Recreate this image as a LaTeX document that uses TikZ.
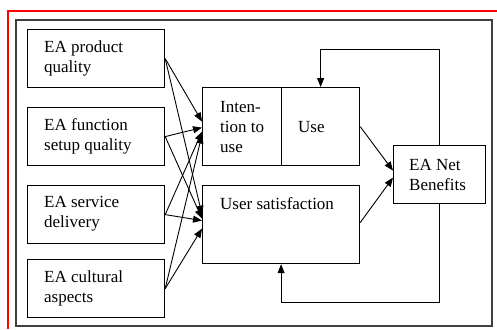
\documentclass[tikz,border=0pt]{standalone}
\usepackage{fontspec}
\setmainfont{Liberation Serif}
\usetikzlibrary{arrows.meta}
\begin{document}
\begin{tikzpicture}[x=1pt,y=-1pt,
  box/.style={draw, line width=1.2pt, inner sep=0pt, anchor=north west},
  lbl/.style={anchor=west, align=left, inner sep=0pt, font=\fontsize{17}{20}\selectfont},
  arr/.style={-{Triangle[length=9pt,width=7pt]}, line width=0.9pt},
  frame/.style={line width=1.8pt, black!75}]
\useasboundingbox (0,0) rectangle (497,329);

% page frames
\draw[red, line width=1.5pt] (497,11) -- (8,11) -- (8,329);
\draw[frame] (16,20) rectangle (492,326);

% quality dimensions
\node[box, minimum width=137pt, minimum height=58pt] (pq) at (27,29) {};
\node[box, minimum width=137pt, minimum height=58pt] (fq) at (27,107) {};
\node[box, minimum width=137pt, minimum height=58pt] (sd) at (27,185) {};
\node[box, minimum width=137pt, minimum height=58pt] (ca) at (27,259) {};
\node[lbl] (tpq) at (44,58) {EA product\\quality};
\node[lbl] (tfq) at (44,136) {EA function\\setup quality};
\node[lbl] (tsd) at (44,214) {EA service\\delivery};
\node[lbl] (tca) at (44,288) {EA cultural\\aspects};

% use and satisfaction
\node[box, minimum width=79pt, minimum height=78pt] (it) at (202,87) {};
\node[box, minimum width=78pt, minimum height=78pt] (use) at (281,87) {};
\node[box, minimum width=157pt, minimum height=78pt] (us) at (202,185) {};
\node[lbl] (tit) at (220,127) {Inten-\\tion to\\use};
\node[lbl] (tuse) at (298,127) {Use};
\node[lbl] (tus) at (220,204) {User satisfaction};

% net benefits
\node[box, minimum width=92pt, minimum height=58pt] (net) at (393,145) {};
\node[lbl] (tnet) at (409,175) {EA Net\\Benefits};

% influences on intention to use
\draw[arr] (pq.east) -- ([yshift=5pt]it.west);
\draw[arr] (fq.east) -- ([yshift=-1pt]it.west);
\draw[arr] (sd.east) -- ([yshift=-5pt]it.west);
\draw[arr] (ca.east) -- ([yshift=-8pt]it.west);

% influences on user satisfaction
\draw[arr] (pq.east) -- ([yshift=10pt]us.west);
\draw[arr] (fq.east) -- ([yshift=6pt]us.west);
\draw[arr] (sd.east) -- ([yshift=4pt]us.west);
\draw[arr] (ca.east) -- ([yshift=-4pt]us.west);

% to net benefits
\draw[arr] (use.east) -- ([yshift=4pt]net.west);
\draw[arr] ([yshift=2pt]us.east) -- ([yshift=-3pt]net.west);

% feedback loops
\coordinate (topy) at (0,49);
\coordinate (boty) at (0,302);
\draw[arr] (net.north) -- (net.north |- topy) -| (use.north);
\draw[arr] (net.south) -- (net.south |- boty) -| (us.south);
\end{tikzpicture}
\end{document}
